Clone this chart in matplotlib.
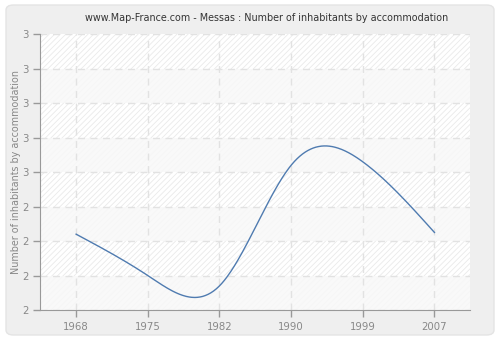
import numpy as np
import matplotlib
matplotlib.use("Agg")
import matplotlib.pyplot as plt
from matplotlib.patches import FancyBboxPatch, Rectangle

years = ["1968", "1975", "1982", "1990", "1999", "2007"]
values = [2.32, 2.20, 2.17, 2.52, 2.53, 2.325]
ytick_values = [2.1, 2.2, 2.3, 2.4, 2.5, 2.6, 2.7, 2.8, 2.9]
ytick_labels = ["2", "2", "2", "2", "3", "3", "3", "3", "3"]
title = "www.Map-France.com - Messas : Number of inhabitants by accommodation"
ylabel = "Number of inhabitants by accommodation"


def natural_spline(x, y, xs):
    x = np.asarray(x, float)
    y = np.asarray(y, float)
    n = len(x)
    h = np.diff(x)
    A = np.zeros((n, n))
    b = np.zeros(n)
    A[0, 0] = 1
    A[-1, -1] = 1
    for i in range(1, n - 1):
        A[i, i - 1] = h[i - 1]
        A[i, i] = 2 * (h[i - 1] + h[i])
        A[i, i + 1] = h[i]
        b[i] = 6 * ((y[i + 1] - y[i]) / h[i] - (y[i] - y[i - 1]) / h[i - 1])
    M = np.linalg.solve(A, b)
    out = np.empty_like(xs)
    for k, t in enumerate(xs):
        i = min(max(np.searchsorted(x, t) - 1, 0), n - 2)
        a = x[i + 1] - t
        c = t - x[i]
        out[k] = (M[i] * a ** 3 + M[i + 1] * c ** 3) / (6 * h[i]) + \
            (y[i] / h[i] - M[i] * h[i] / 6) * a + (y[i + 1] / h[i] - M[i + 1] * h[i] / 6) * c
    return out


plt.rcParams["hatch.linewidth"] = 0.6
fig = plt.figure(figsize=(5, 3.4), dpi=100, facecolor="white")
panel = FancyBboxPatch((6 / 500, 5 / 340), 488 / 500, 330 / 340,
                       boxstyle="round,pad=0,rounding_size=0.015",
                       transform=fig.transFigure, facecolor="#efefef",
                       edgecolor="#e4e4e4", linewidth=1.0, zorder=-10)
fig.patches.append(panel)

ax = fig.add_axes([40.3 / 500, 1 - 310 / 340, 430 / 500, 275.7 / 340])
ax.set_zorder(1)
ax.set_facecolor("white")
ax.add_patch(Rectangle((0, 0), 1, 1, transform=ax.transAxes, facecolor="none",
                       edgecolor="#eaeaea", hatch="//////", linewidth=0, zorder=0))
for k in range(len(ytick_values) - 1):
    if (len(ytick_values) - 2 - k) % 2 == 1:
        ax.axhspan(ytick_values[k], ytick_values[k + 1], color="#f8f8f8", alpha=0.85,
                   linewidth=0, zorder=0.5)

xi = np.arange(len(years))
xs = np.linspace(0, len(years) - 1, 400)
ax.plot(xs, natural_spline(xi, values, xs), color="#4f7bb0", linewidth=1.0, zorder=3)

ax.set_xlim(-0.5, len(years) - 0.5)
ax.set_ylim(ytick_values[0], ytick_values[-1])
ax.set_xticks(xi)
ax.set_xticklabels(years)
ax.set_yticks(ytick_values)
ax.set_yticklabels(ytick_labels)
ax.grid(True, color="#e2e2e2", linestyle=(0, (5, 4)), linewidth=1.0, zorder=1)
ax.set_axisbelow(False)
for s in ["top", "right"]:
    ax.spines[s].set_visible(False)
for s in ["left", "bottom"]:
    ax.spines[s].set_color("#999999")
    ax.spines[s].set_zorder(4)
ax.tick_params(colors="#999999", labelcolor="#888888", labelsize=7.3, length=5, width=1)
ax.set_ylabel(ylabel, color="#888888", fontsize=6.9, labelpad=1)
fig.text(267 / 500, 1 - 18 / 340, title, ha="center", va="center", fontsize=6.9, color="#333333")
fig.savefig("out.png", dpi=100, facecolor="white")
